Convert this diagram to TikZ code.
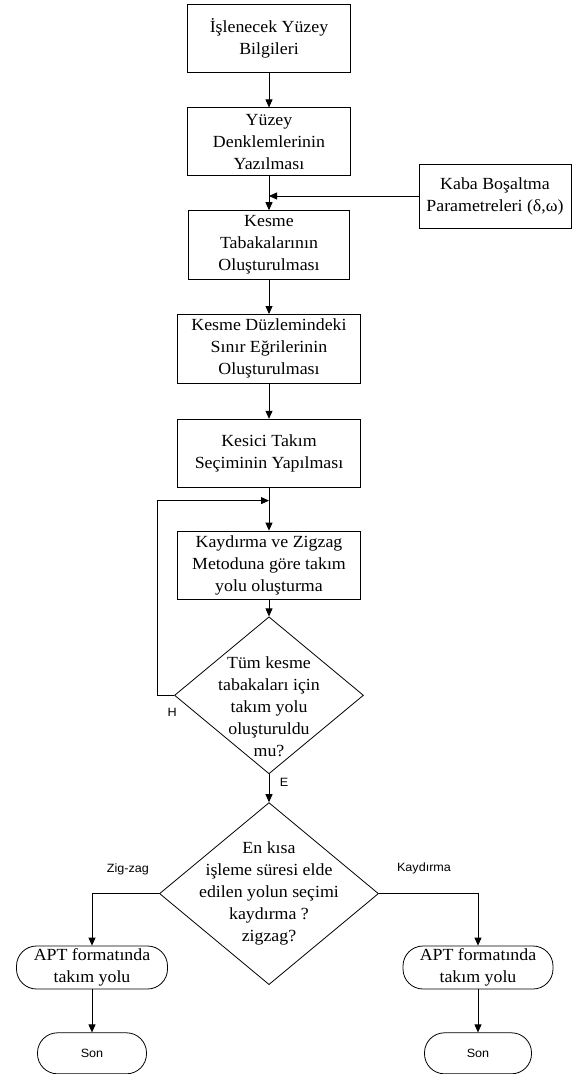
\documentclass[tikz,border=0pt]{standalone}
\usepackage{fontspec}
\setmainfont{Liberation Serif}[FakeStretch=1.05]
\newfontfamily\labelfont{Liberation Sans}[FakeStretch=1.05]
\usetikzlibrary{arrows.meta,positioning,shapes.geometric}

\begin{document}
\begin{tikzpicture}[
  x=1pt,y=-1pt,
  every node/.style={font=\fontsize{17}{22}\selectfont},
  stepbox/.style={draw,line width=.8pt,align=center,minimum width=163pt,minimum height=68pt,inner sep=0pt},
  widebox/.style={stepbox,minimum width=183pt},
  decision/.style={diamond,draw,line width=.8pt,inner sep=0pt},
  terminal/.style={draw,line width=.8pt,rounded corners=20pt,align=center,minimum height=43pt,inner sep=0pt},
  answer/.style={font=\labelfont\fontsize{12}{14}\selectfont,inner sep=0pt},
  flow/.style={-{Triangle[length=8pt,width=7pt]},line width=.8pt}]

  \useasboundingbox (0,0) rectangle (577,1074);

  % main column
  \node[stepbox] (info) at (269,38) {İşlenecek Yüzey\\Bilgileri};
  \node[stepbox,below=35pt of info] (eqn) {Yüzey\\Denklemlerinin\\Yazılması};
  \node[stepbox,minimum width=161pt,minimum height=69pt,below=34pt of eqn] (layers) {Kesme\\Tabakalarının\\Oluşturulması};
  \node[widebox,minimum height=69pt,below=34pt of layers] (curves) {Kesme Düzlemindeki\\Sınır Eğrilerinin\\Oluşturulması};
  \node[widebox,below=35pt of curves] (tool) {Kesici Takım\\Seçiminin Yapılması};
  \node[widebox,below=43pt of tool] (path) {Kaydırma ve Zigzag\\Metoduna göre takım\\yolu oluşturma};

  % side input
  \node[stepbox,minimum width=152pt,minimum height=64pt] (rough) at (495,196) {Kaba Boşaltma\\Parametreleri (δ,ω)};

  % decisions
  \node[decision,minimum width=189pt,minimum height=157pt,below=17pt of path] (done) {};
  \node[align=center,inner sep=0pt] (donetext) at ([yshift=-11pt]done.center) {Tüm kesme\\tabakaları için\\takım yolu\\oluşturuldu\\mu?};
  \node[decision,minimum width=219pt,minimum height=182pt,below=28pt of done] (pick) {};
  \node[align=center,inner sep=0pt] (picktext) at (pick.center) {En kısa\\işleme süresi elde\\edilen yolun seçimi\\kaydırma ?\\zigzag?};

  % outputs
  \node[terminal,minimum width=151pt] (aptz) at (92,967.5) {APT formatında\\takım yolu};
  \node[terminal,minimum width=150pt] (aptk) at (478,967.5) {APT formatında\\takım yolu};
  \node[terminal,answer,minimum width=109pt,minimum height=41pt,below=43pt of aptz] (endz) {Son};
  \node[terminal,answer,minimum width=107pt,minimum height=41pt,below=43pt of aptk] (endk) {Son};

  % labels
  \node[answer] (no) at ([xshift=-2pt,yshift=-17pt]done.west) {H};
  \node[answer] (yes) at ([xshift=15pt,yshift=-8pt]done.south) {E};
  \node[answer] (zz) at (128,869) {Zig-zag};
  \node[answer] (kd) at (424,868) {Kaydırma};

  % connectors
  \draw[flow] (info) -- (eqn);
  \draw[flow] (eqn) -- (layers);
  \draw[flow] (rough.west) -- (rough.west -| eqn.south);
  \draw[flow] (layers) -- (curves);
  \draw[flow] (curves) -- (tool);
  \draw[flow] (tool) -- (path);
  \coordinate (back) at ([yshift=-13pt]tool.south);
  \draw[flow] (done.west) -- ++(-17,0) |- (back);
  \draw[flow] (path) -- (done);
  \draw[flow] (done) -- (pick);
  \draw[flow] (pick.west) -| (aptz);
  \draw[flow] (pick.east) -| (aptk);
  \draw[flow] (aptz) -- (endz);
  \draw[flow] (aptk) -- (endk);
\end{tikzpicture}
\end{document}
